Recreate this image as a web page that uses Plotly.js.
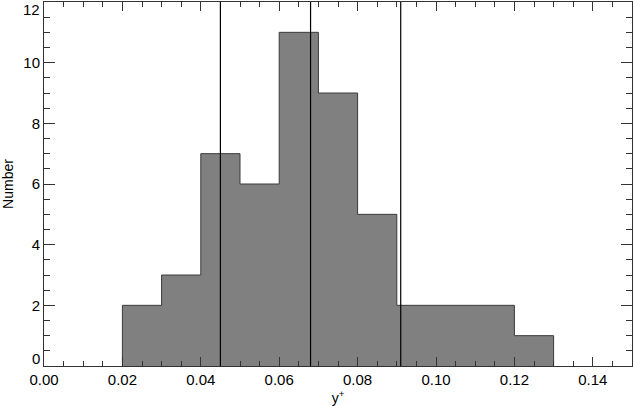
<!DOCTYPE html>
<html>
<head>
<meta charset="utf-8">
<script src="https://cdn.plot.ly/plotly-3.0.1.min.js"></script>
<style>
  html, body { margin: 0; padding: 0; background: white; }
  #plot { width: 633px; height: 406px; }
</style>
</head>
<body>
<div id="plot"></div>
<script>
// Histogram data (bin left edges, width 0.01)
const binStarts = [0.02, 0.03, 0.04, 0.05, 0.06, 0.07, 0.08, 0.09, 0.10, 0.11, 0.12];
const counts = [2, 3, 7, 6, 11, 9, 5, 2, 2, 2, 1];
const binWidth = 0.01;

// Vertical marker lines
const markerLines = [0.045, 0.068, 0.091];

const xTicks = [0.00, 0.02, 0.04, 0.06, 0.08, 0.10, 0.12, 0.14];
const xTickText = ['0.00', '0.02', '0.04', '0.06', '0.08', '0.10', '0.12', '0.14'];
const yTicks = [0, 2, 4, 6, 8, 10, 12];
const yTickText = ['0', '2', '4', '6', '8', '10', '12'];

// build step outline from the bins: start at zero, walk the tops, come back down
const lastEdge = binStarts[binStarts.length - 1] + binWidth;
const stepX = [binStarts[0]].concat(binStarts, [lastEdge, lastEdge]);
const stepY = [0].concat(counts, [counts[counts.length - 1], 0]);

const histTrace = {
    x: stepX,
    y: stepY,
    type: 'scatter',
    mode: 'lines',
    line: { shape: 'hv', color: '#3a3a3a', width: 1 },
    fill: 'tozeroy',
    fillcolor: '#808080',
    hoverinfo: 'skip'
};

const shapes = markerLines.map(v => ({
    type: 'line',
    xref: 'x',
    yref: 'paper',
    x0: v, x1: v,
    y0: 0, y1: 1,
    line: { color: '#000', width: 1.2 }
}));

const fontFamily = 'Liberation Sans, Arial, sans-serif';
const axisFont = { family: fontFamily, size: 15, color: '#000' };

// first and last y labels are nudged inside the frame, like the original
const lastY = yTicks.length - 1;
const edgeLabels = [
    { text: yTickText[0], y: yTicks[0], yanchor: 'bottom', yshift: -3 },
    { text: yTickText[lastY], y: yTicks[lastY], yanchor: 'top', yshift: 3 }
].map(a => Object.assign({
    xref: 'paper', yref: 'y', x: 0, xanchor: 'right', xshift: -2,
    showarrow: false, font: axisFont
}, a));

const layout = {
    width: 633,
    height: 406,
    margin: { l: 44, r: 1, t: 2, b: 40 },
    plot_bgcolor: 'white',
    paper_bgcolor: 'white',
    showlegend: false,
    shapes: shapes,
    annotations: edgeLabels,
    font: axisFont,
    xaxis: {
        range: [0, 0.15],
        tickvals: xTicks,
        ticktext: xTickText,
        ticks: 'inside',
        ticklen: 9,
        tickcolor: '#333',
        showline: true,
        linecolor: '#333',
        linewidth: 1,
        mirror: 'ticks',
        showgrid: false,
        zeroline: false,
        tickfont: axisFont,
        minor: { dtick: 0.005, ticks: 'inside', ticklen: 5, tickcolor: '#333', showgrid: false },
        title: { text: 'y<sup>+</sup>', font: { family: fontFamily, size: 14 }, standoff: 0 }
    },
    yaxis: {
        range: [0, 12],
        tickvals: yTicks,
        ticktext: yTickText.map((t, i) => (i === 0 || i === lastY) ? '' : t),
        ticks: 'inside',
        ticklen: 11,
        tickcolor: '#333',
        showline: true,
        linecolor: '#333',
        linewidth: 1,
        mirror: 'ticks',
        showgrid: false,
        zeroline: false,
        tickfont: axisFont,
        minor: { dtick: 0.5, ticks: 'inside', ticklen: 6, tickcolor: '#333', showgrid: false },
        title: { text: 'Number', font: { family: fontFamily, size: 14 }, standoff: 6 }
    }
};

Plotly.newPlot('plot', [histTrace], layout, { displayModeBar: false, staticPlot: true });
</script>
</body>
</html>
